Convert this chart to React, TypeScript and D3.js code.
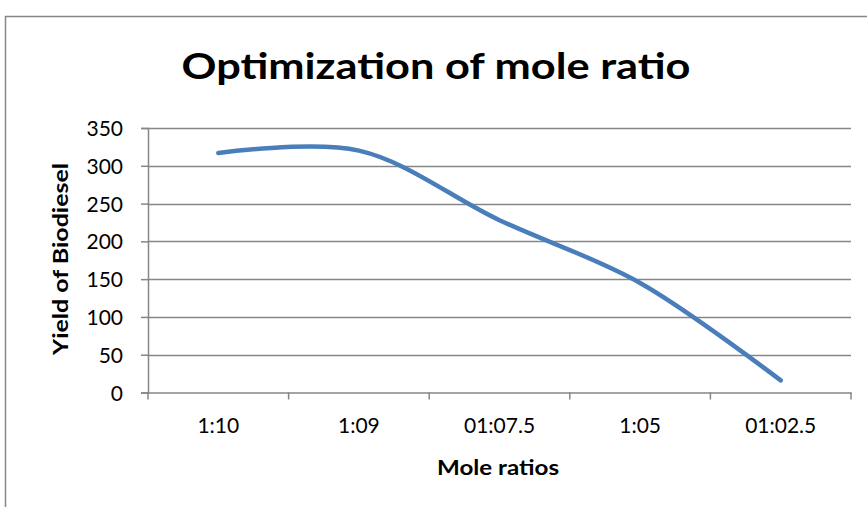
import React, { useRef, useEffect } from "react";
import * as d3 from "d3";

const width = 867;
const height = 507;
const margin = { top: 128, right: 16, bottom: 114, left: 148 };

// data
const ratios = ["1:10", "1:09", "01:07.5", "1:05", "01:02.5"];
const yields = [317, 320, 228, 145, 16];
const yTicks = [0, 50, 100, 150, 200, 250, 300, 350];

const font = "Lato, 'Open Sans', sans-serif";
const gridColor = "#868686";

export default function App() {
  const svgRef = useRef<SVGSVGElement>(null);

  useEffect(() => {
    if (!svgRef.current) return;
    const svg = d3.select(svgRef.current);
    svg.selectAll("*").remove();

    const x = d3.scaleBand()
      .domain(ratios)
      .range([margin.left, width - margin.right]);

    const y = d3.scaleLinear()
      .domain([0, 350])
      .range([height - margin.bottom - 0.5, margin.top]);

    // outer chart border
    svg.append("rect")
      .attr("x", 5.5).attr("y", 16.5)
      .attr("width", width + 10).attr("height", height + 10)
      .attr("fill", "white")
      .attr("stroke", gridColor).attr("stroke-width", 1.5);

    // title
    svg.append("text")
      .attr("x", 436).attr("y", 79)
      .attr("text-anchor", "middle")
      .attr("font-family", font)
      .attr("font-weight", "bold")
      .attr("font-size", 36)
      .attr("textLength", 509)
      .attr("lengthAdjust", "spacingAndGlyphs")
      .text("Optimization of mole ratio");

    // gridlines
    svg.append("g")
      .selectAll("line")
      .data(yTicks.filter(d => d > 0))
      .join("line")
      .attr("x1", margin.left).attr("x2", width - margin.right)
      .attr("y1", d => Math.round(y(d)) + 0.5).attr("y2", d => Math.round(y(d)) + 0.5)
      .attr("stroke", gridColor).attr("stroke-width", 1.5);

    // y axis
    const yAxis = svg.append("g")
      .attr("transform", `translate(${margin.left},0)`)
      .call(d3.axisLeft(y).tickValues(yTicks).tickSize(7).tickPadding(18));
    yAxis.select(".domain").attr("stroke", gridColor).attr("stroke-width", 1.5);
    yAxis.selectAll(".tick line").attr("stroke", gridColor).attr("stroke-width", 1.5);
    yAxis.selectAll(".tick text")
      .attr("font-family", font).attr("font-size", 21).attr("fill", "#000")
      .attr("dy", "0.36em");

    // x axis
    const xAxis = svg.append("g")
      .attr("transform", `translate(0,${y(0)})`)
      .call(d3.axisBottom(x).tickSize(0).tickPadding(26));
    xAxis.select(".domain").attr("stroke", gridColor).attr("stroke-width", 1.5);
    xAxis.selectAll(".tick text")
      .attr("font-family", font).attr("font-size", 21).attr("fill", "#000");

    // category boundary ticks
    const bounds = ratios.map(r => x(r)!).concat([x.range()[1]]);
    svg.append("g")
      .selectAll("line")
      .data(bounds)
      .join("line")
      .attr("x1", d => d).attr("x2", d => d)
      .attr("y1", y(0)).attr("y2", y(0) + 7)
      .attr("stroke", gridColor).attr("stroke-width", 1.5);

    // axis titles
    svg.append("text")
      .attr("x", 498).attr("y", 475)
      .attr("text-anchor", "middle")
      .attr("font-family", font).attr("font-weight", "bold").attr("font-size", 21)
      .attr("textLength", 122)
      .attr("lengthAdjust", "spacingAndGlyphs")
      .text("Mole ratios");

    svg.append("text")
      .attr("transform", "translate(68,259) rotate(-90)")
      .attr("text-anchor", "middle")
      .attr("font-family", font).attr("font-weight", "bold").attr("font-size", 21)
      .attr("textLength", 192)
      .attr("lengthAdjust", "spacingAndGlyphs")
      .text("Yield of Biodiesel");

    // smoothed series line
    const line = d3.line<number>()
      .x((_, i) => x(ratios[i])! + x.bandwidth() / 2)
      .y(d => y(d))
      .curve(d3.curveCatmullRom.alpha(0.5));

    svg.append("path")
      .datum(yields)
      .attr("d", line)
      .attr("fill", "none")
      .attr("stroke", "#4a7ebb")
      .attr("stroke-width", 4.5)
      .attr("stroke-linecap", "round");
  }, []);

  return (
    <svg
      ref={svgRef}
      width={width}
      height={height}
      style={{ position: "absolute", left: 0, top: 0, background: "white" }}
    />
  );
}
